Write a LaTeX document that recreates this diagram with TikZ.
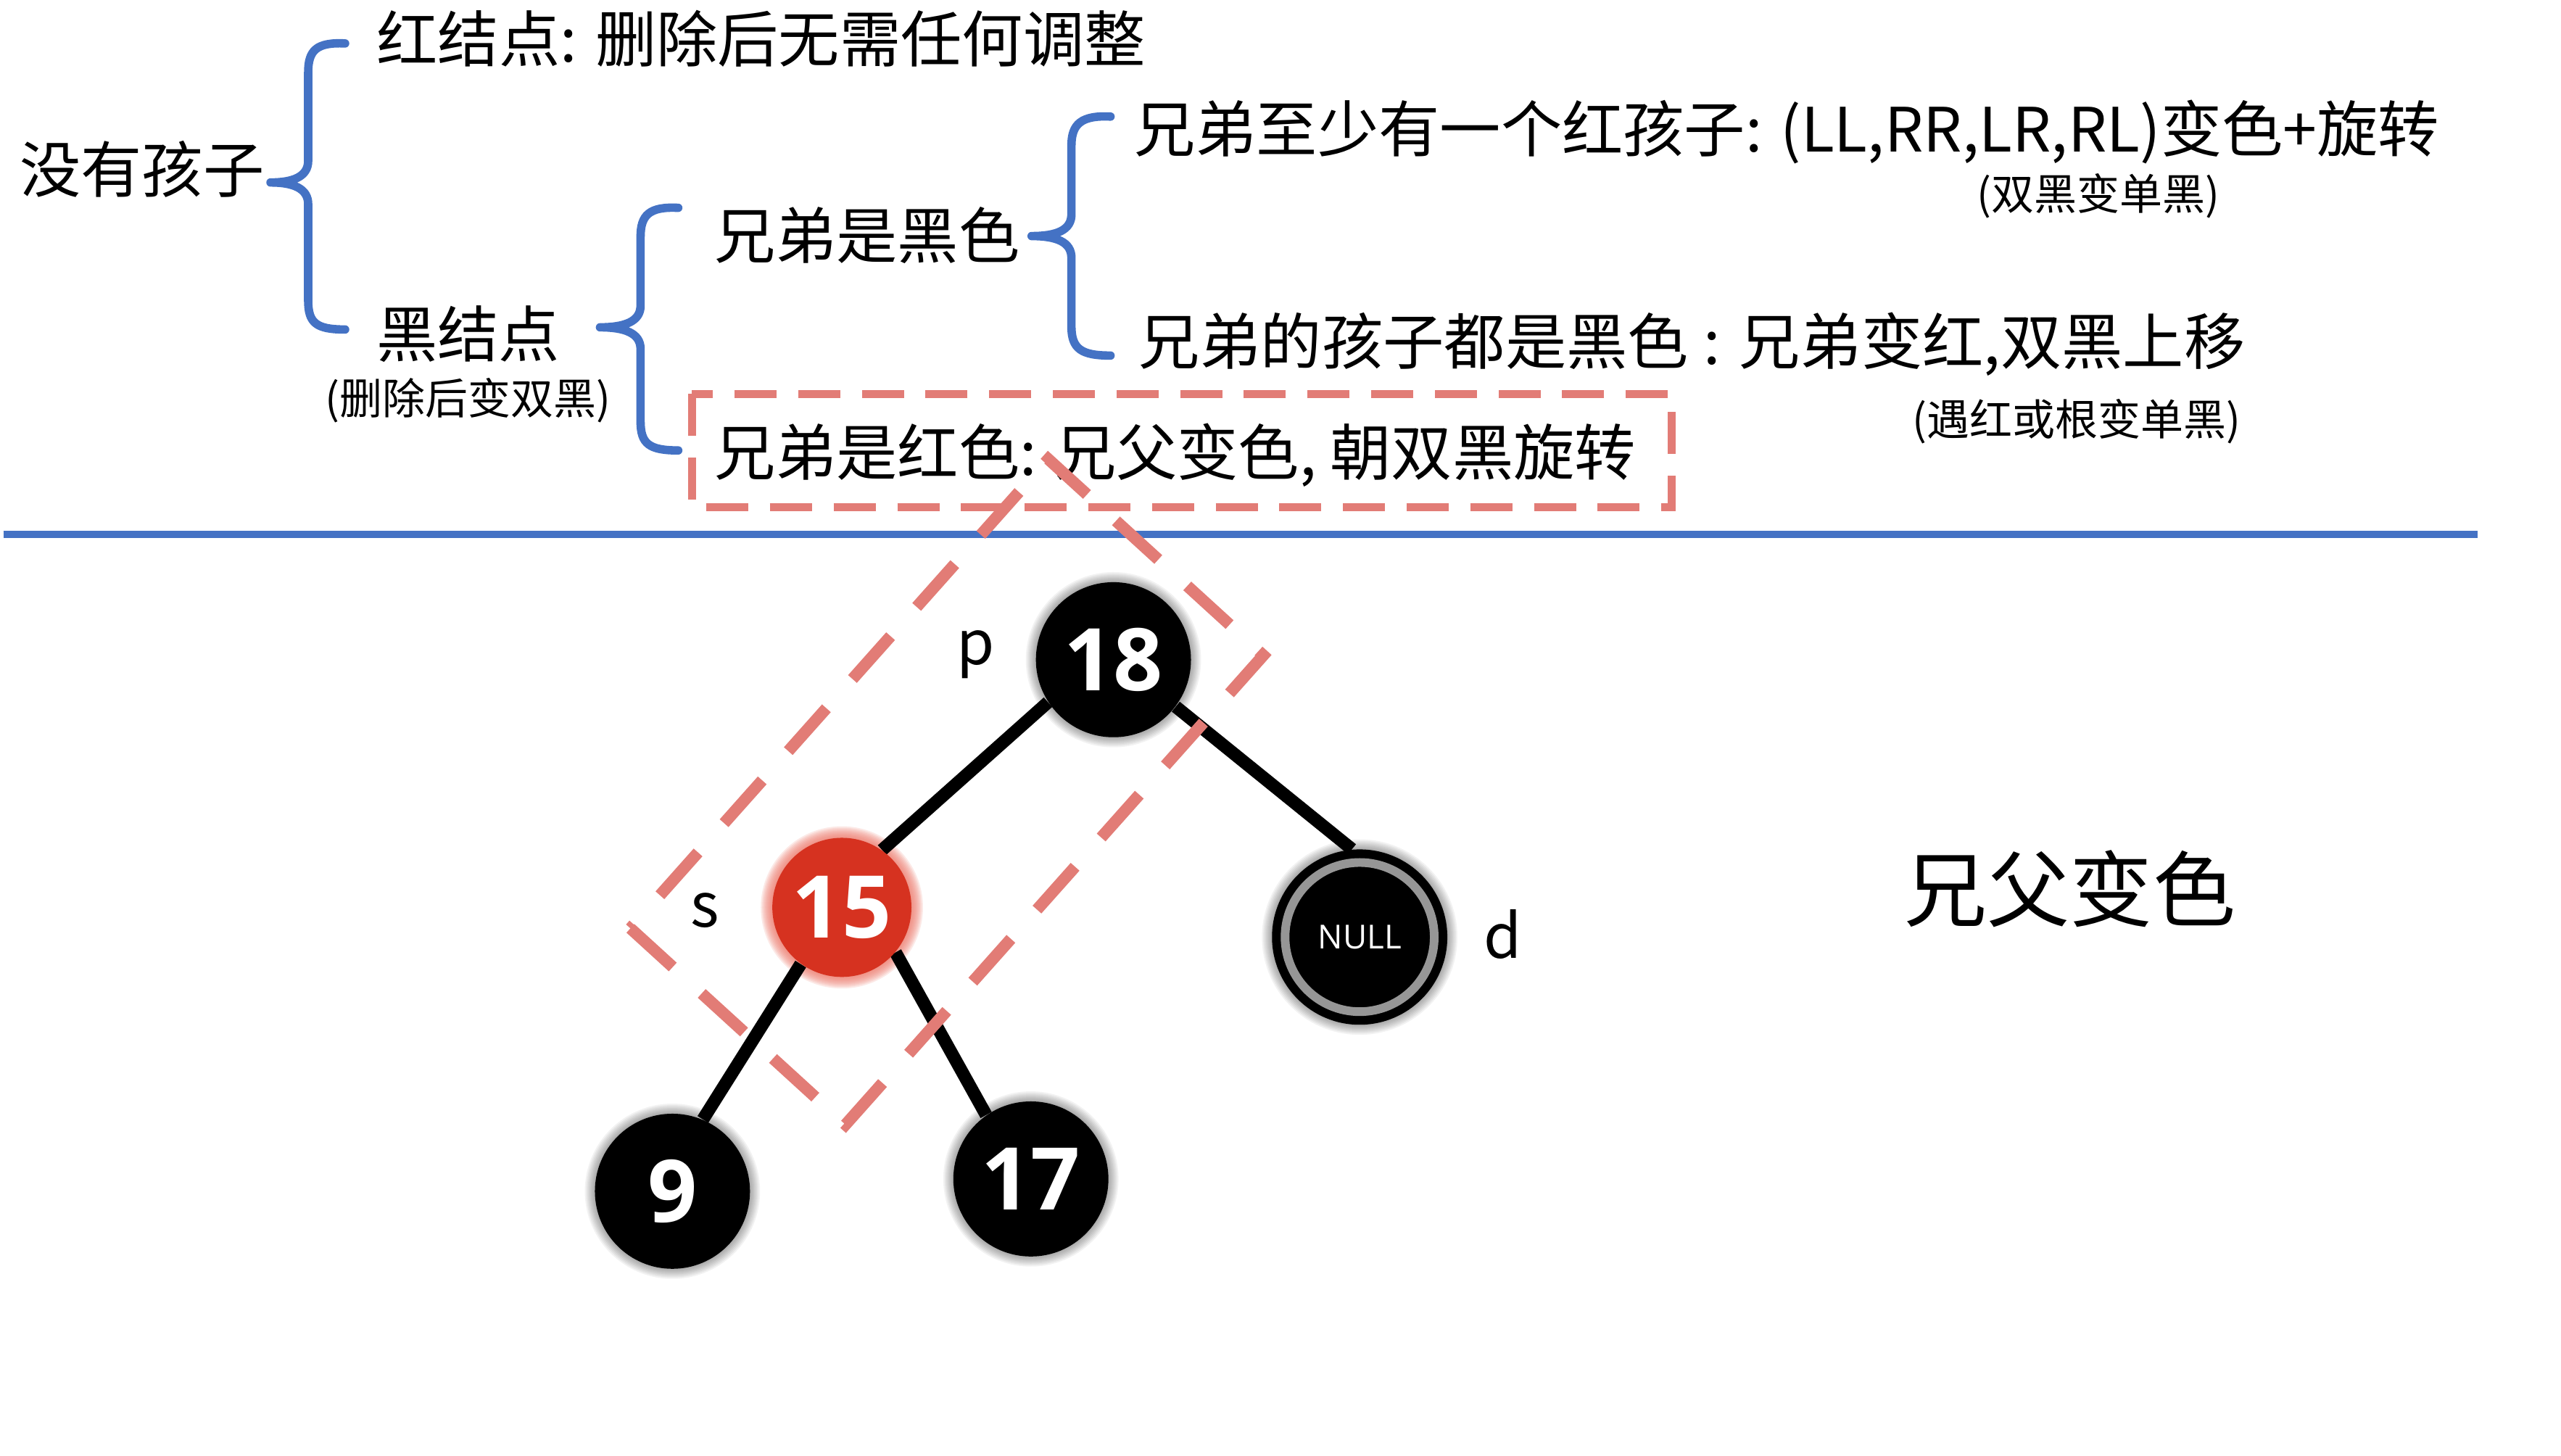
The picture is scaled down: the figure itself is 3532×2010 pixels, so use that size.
\documentclass[tikz,border=0pt]{standalone}
\usepackage{fontspec}
\setmainfont{Noto Sans CJK SC}
\newfontfamily\numfont{Open Sans}
\pgfdeclarelayer{background}
\pgfdeclarelayer{paper}
\pgfsetlayers{paper,background,main}
\definecolor{bracecol}{RGB}{68,114,196}
\definecolor{dashcol}{RGB}{226,124,118}
\definecolor{nodered}{RGB}{214,50,32}
\definecolor{glowred}{RGB}{238,120,105}
\definecolor{ringgray}{RGB}{150,150,150}
\begin{document}
\begin{tikzpicture}[x=0.01cm,y=-0.01cm,
  txt/.style={inner sep=0pt, font=\fontsize{24pt}{28pt}\selectfont},
  smalltxt/.style={inner sep=0pt, font=\fontsize{16.8pt}{20pt}\selectfont},
  bigtxt/.style={inner sep=0pt, font=\fontsize{32.5pt}{38pt}\selectfont},
  lbl/.style={inner sep=0pt, anchor=base, font=\fontsize{24pt}{28pt}\selectfont},
  bracepath/.style={draw=bracecol, line width=3.3pt, line cap=round, line join=round},
  sepline/.style={draw=bracecol, line width=2.6pt},
  boxdash/.style={draw=dashcol, line width=3.1pt, dash pattern=on 16.5pt off 8.5pt},
  rotdash/.style={draw=dashcol, line width=4.6pt, dash pattern=on 22.5pt off 15.4pt},
  rbnode/.style={circle, inner sep=0pt, minimum size=2.14cm, fill=black, text=white, font=\numfont\fontsize{34pt}{40pt}\bfseries},
  rednode/.style={rbnode, fill=nodered, minimum size=1.92cm},
  nullnode/.style={circle, inner sep=0pt, minimum size=2.42cm, fill=black, text=white, font=\numfont\fontsize{13pt}{15pt}\selectfont},
  treeline/.style={draw=black, line width=5pt},
]
\begin{pgfonlayer}{paper}
\useasboundingbox[fill=white] (0,0) rectangle (3532,2010);
\end{pgfonlayer}

% ---- text of the decision tree ----
\node[txt, anchor=west] (t0) at (22,234) {没有孩子};
\node[txt, anchor=west] (t1) at (515,53) {红结点: 删除后无需任何调整};
\node[txt] (t2) at (642,461) {黑结点};
\node[smalltxt] (t2s) at (642,553) {(删除后变双黑)};
\node[txt, anchor=west] (t3) at (981,325) {兄弟是黑色};
\node[txt, anchor=west] (t4) at (981,629) {兄弟是红色: 兄父变色, 朝双黑旋转};
\node[txt, anchor=west] (t5) at (1561,182) {兄弟至少有一个红孩子: (LL,RR,LR,RL)变色+旋转};
\node[smalltxt] (t5s) at (2893,271) {(双黑变单黑)};
\node[txt, anchor=west] (t6) at (1567,475) {兄弟的孩子都是黑色\hspace{0.25em}:\hspace{0.3em}兄弟变红,双黑上移};
\node[smalltxt] (t6s) at (2863,582) {(遇红或根变单黑)};

% ---- braces ----
\draw[bracepath] (472,60) .. controls (432,58) and (421,70) .. (421,100) -- (421,222)
  .. controls (421,244) and (400,252) .. (369,252)
  .. controls (400,252) and (421,260) .. (421,282) -- (421,415)
  .. controls (421,446) and (432,455) .. (472,455);
\draw[bracepath] (932,287) .. controls (892,285) and (880,297) .. (880,327) -- (880,422)
  .. controls (880,444) and (858,452) .. (824,452)
  .. controls (858,452) and (880,460) .. (880,482) -- (880,582)
  .. controls (880,613) and (892,622) .. (932,622);
\draw[bracepath] (1529,161) .. controls (1489,159) and (1475,171) .. (1475,201) -- (1475,296)
  .. controls (1475,318) and (1454,326) .. (1420,326)
  .. controls (1454,326) and (1475,334) .. (1475,356) -- (1475,451)
  .. controls (1475,482) and (1489,491) .. (1529,491);

% ---- dashed box round the red-sibling case ----
\draw[boxdash] (951,544) rectangle (2304,700);

% ---- separator ----
\draw[sepline] (0,738) -- (3417,738);

% ---- tree ----
\node[rbnode] (n18) at (1533,911) {18};
\node[rednode] (n15) at (1158,1253) {15};
\node[nullnode] (nnull) at (1873,1294) {NULL};
\node[rbnode] (n9) at (924,1645) {9};
\node[rbnode] (n17) at (1419,1628) {17};
\draw[ringgray, line width=3.4pt] (nnull.center) circle (103);

\begin{pgfonlayer}{background}
  \foreach \n/\r in {n18/107, n9/107, n17/107, nnull/121}{
    \foreach \k in {1,...,7}{
      \fill[black, opacity=0.05] (\n.center) circle ({\r+\k*2});
    }
  }
  \foreach \k in {1,...,8}{
    \fill[glowred, opacity=0.16] (n15.center) circle ({96+\k*2});
  }
  \draw[treeline] (n18.-147) -- (n15.55);
  \draw[treeline] (n18.-37) -- (nnull.95);
  \draw[treeline] (n15.234) -- (n9.67);
  \draw[treeline] (n15.-40) -- (n17.125);
\end{pgfonlayer}

\node[lbl] (lp) at (1343,918) {p};
\node[lbl] (ls) at (969,1280) {s};
\node[lbl] (ld) at (2071,1323) {d};

% ---- rotated dashed box round p and s ----
\coordinate (ra) at (866,1282);
\coordinate (rb) at (1163,1553);
\coordinate (rc) at (1740,905);
\coordinate (rd) at (1443,634);
\draw[rotdash] (ra) -- (rb) -- (rc) -- (rd) -- cycle;

\node[bigtxt] (big) at (2854,1227) {兄父变色};
\end{tikzpicture}
\end{document}
